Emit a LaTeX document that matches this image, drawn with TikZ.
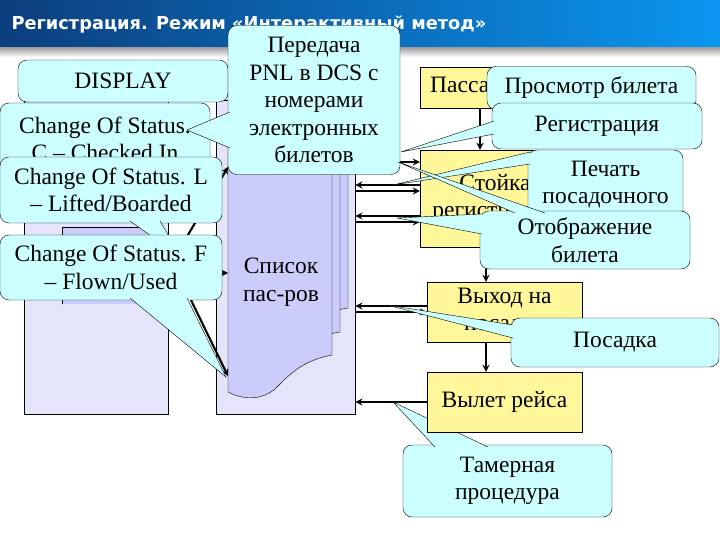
\documentclass[tikz,border=0pt]{standalone}
\usepackage{fontspec}
\setmainfont{Liberation Serif}
\newfontfamily\headfont{DejaVu Sans}
\usetikzlibrary{positioning}

\definecolor{callcyan}{RGB}{204,255,255}
\definecolor{panelfill}{RGB}{228,228,250}
\definecolor{docfill}{RGB}{204,204,250}
\definecolor{boxfill}{RGB}{255,247,153}
\definecolor{headdark}{RGB}{12,62,125}
\definecolor{headlight}{RGB}{10,150,240}

\begin{document}
\begin{tikzpicture}[x=1pt,y=-1pt,
    callout/.style={rectangle,draw,fill=callcyan,rounded corners=9pt,inner sep=0pt,align=center,font=\fontsize{23.5}{27.5}\selectfont},
    stepbox/.style={rectangle,draw,fill=boxfill,inner sep=0pt,align=center,font=\fontsize{23.5}{27.5}\selectfont},
    panel/.style={rectangle,draw,fill=panelfill,inner sep=0pt,anchor=north west},
    doc/.style={draw,fill=docfill},
    arr/.style={->,>=stealth,line width=2.1pt}
    ]

    \useasboundingbox (0,0) rectangle (720,540);

    % header
    \shade[left color=headdark,right color=headlight] (0,0) rectangle (720,48);
    \shade[top color=black!35,bottom color=white] (0,48) rectangle (720,57);
    \node (title) [anchor=west,text=white,font=\headfont\bfseries\fontsize{17.8}{20}\selectfont] at (8,25) {Регистрация. Режим «Интерактивный метод»};

    % left and middle panels
    \node (leftpanel) [panel,minimum width=144,minimum height=314] at (24,100) {};
    \fill[docfill] (62,227) rectangle (146,304);
    \draw (62,304) -- (62,227) -- (146,227);

    \node (midpanel) [panel,minimum width=139,minimum height=314] at (216,100) {};

    \draw[doc] (244,112) -- (348,112) -- (348,308) .. controls (320,312) and (305,330) .. (290,345)
      .. controls (275,360) and (258,358) .. (244,350) -- cycle;
    \draw[doc] (236,120) -- (340,120) -- (340,332) .. controls (312,336) and (297,354) .. (282,369)
      .. controls (267,384) and (250,382) .. (236,374) -- cycle;
    \draw[doc] (228,128) -- (332,128) -- (332,355) .. controls (305,360) and (292,372) .. (278,386)
      .. controls (265,400) and (245,401) .. (228,392) -- cycle;
    \coordinate (doctop) at (228,128);

    \node (spisok) [font=\fontsize{23.5}{27.5}\selectfont,align=center] at (281,282) {Список\\пас-ров};

    % right column
    \node (tamer) [callout,minimum width=209,minimum height=72] at (507.5,481) {Тамерная\\процедура};
    \fill[callcyan] (435,447) -- (393,402) -- (488,447) -- cycle;
    \draw (435,447) -- (393,402) -- (488,447);

    \node (passenger) [stepbox,minimum width=120,minimum height=41] at (480,87.5) {Пассажир};
    \node (stoika) [stepbox,minimum width=150,minimum height=97] at (495,198.5) {Стойка\\регистрации};
    \node (vyhod) [stepbox,minimum width=155,minimum height=60] at (504.5,312) {Выход на\\посадку};
    \node (vylet) [stepbox,minimum width=155,minimum height=60] at (504.5,402) {Вылет рейса};

    \draw[arr] (passenger.south) -- (passenger.south |- stoika.north);
    \draw[arr] (stoika.south -| 486,0) -- (vyhod.north -| 486,0);
    \draw[arr] (vyhod.south -| 486,0) -- (vylet.north -| 486,0);

    \foreach \y in {162,191,222}
      \draw[arr] (midpanel.east |- 0,\y) -- (stoika.west |- 0,\y);
    \foreach \y in {185,216}
      \draw[arr] (stoika.west |- 0,\y) -- (midpanel.east |- 0,\y);
    \draw[arr] (vyhod.west |- 0,306) -- (midpanel.east |- 0,306);
    \draw[arr] (midpanel.east |- 0,312) -- (vyhod.west |- 0,312);
    \draw[arr] (vylet.west |- 0,402) -- (midpanel.east |- 0,402);

    \draw[arr] (leftpanel.east |- 0,273) -- (doctop |- 0,273);
    \draw[arr] (185,240) -- (doctop |- 0,167);
    \draw[arr] (190,298) -- (doctop |- 0,376);

    % left callouts
    \node (display) [callout,minimum width=210,minimum height=42] at (123,81) {DISPLAY};
    \node (statC) [callout,minimum width=210,minimum height=72] at (105,139) {Change Of Status.\\C – Checked In};
    \node (statL) [callout,minimum width=222,minimum height=66] at (111,190) {Change Of Status. L\\– Lifted/Boarded};
    \fill[callcyan] (130,221) -- (182,258) -- (160,221) -- cycle;
    \draw (130,221) -- (182,258) -- (160,221);
    \node (statF) [callout,minimum width=222,minimum height=65] at (111,267.5) {Change Of Status. F\\– Flown/Used};
    \fill[callcyan] (130,298) -- (226,377) -- (187,298) -- cycle;
    \draw (130,298) -- (226,377) -- (187,298);

    \node (peredacha) [callout,minimum width=172,minimum height=149] at (314,100) {Передача\\PNL в DCS с\\номерами\\электронных\\билетов};
    \fill[callcyan] (230,112) -- (187,130) -- (230,148) -- cycle;
    \draw (230,112) -- (187,130) -- (230,148);

    % right callouts
    \node (prosmotr) [callout,minimum width=209,minimum height=43] at (591.5,88) {Просмотр билета};
    \node (reg) [callout,minimum width=210,minimum height=46] at (597,126) {Регистрация};
    \fill[callcyan] (494,121) -- (401,152) -- (494,134) -- cycle;
    \draw (494,121) -- (401,152) -- (494,134);
    \node (pechat) [callout,minimum width=155,minimum height=69] at (605.5,184.5) {Печать\\посадочного};
    \fill[callcyan] (530,152) -- (393,185) -- (530,164) -- cycle;
    \draw (530,152) -- (393,185) -- (530,164);
    \node (otobr) [callout,minimum width=210,minimum height=58] at (585,240) {Отображение\\билета};
    \fill[callcyan] (515,213) -- (398,162) -- (545,213) -- cycle;
    \draw (515,213) -- (398,162) -- (545,213);
    \fill[callcyan] (482,214) -- (397,218) -- (482,234) -- cycle;
    \draw (482,214) -- (397,218) -- (482,234);
    \node (posadka) [callout,minimum width=208,minimum height=49] at (615,342.5) {Посадка};
    \fill[callcyan] (513,325) -- (387,305) -- (513,338) -- cycle;
    \draw (513,325) -- (387,305) -- (513,338);

  \end{tikzpicture}
\end{document}
